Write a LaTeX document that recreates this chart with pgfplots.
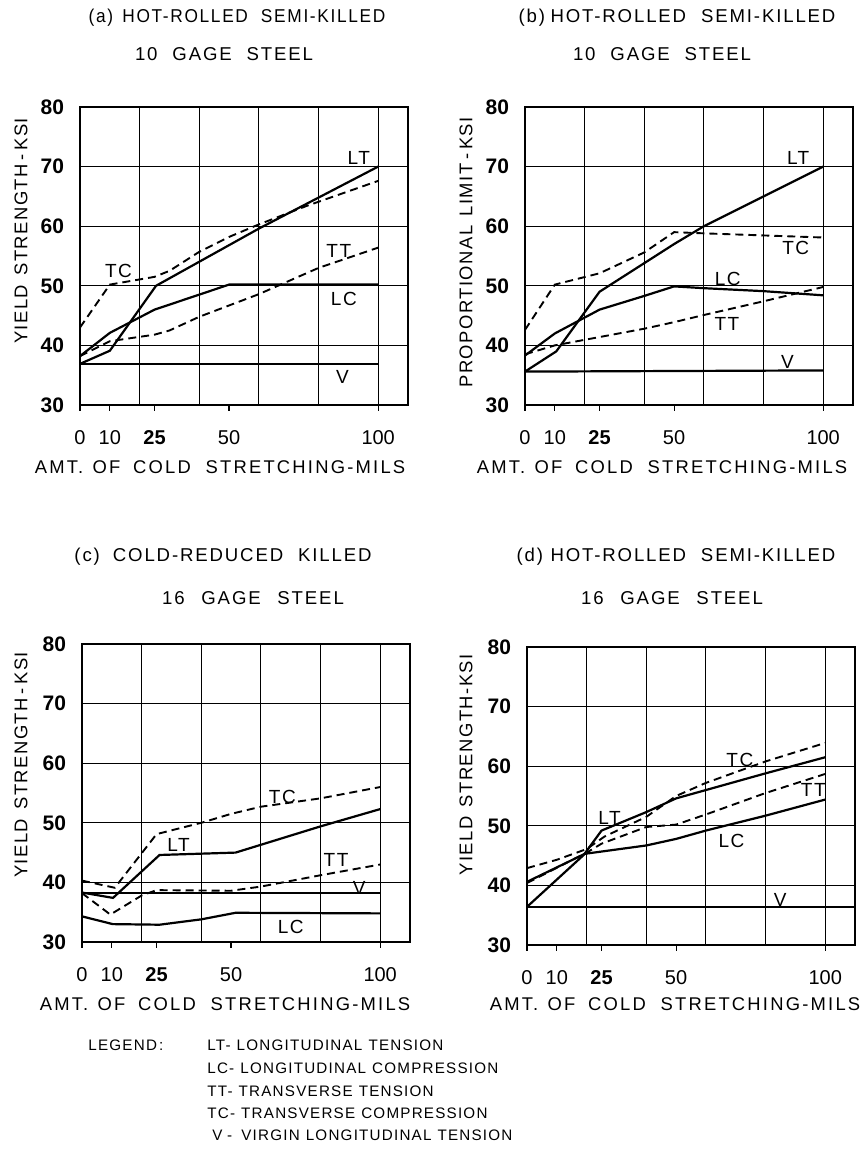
\documentclass[border=0pt]{standalone}
\usepackage{fontspec}
\setmainfont{Liberation Sans}
\newfontfamily\ttlfont[LetterSpace=10]{Liberation Sans}
\newfontfamily\ttlnarrow[LetterSpace=9,FakeStretch=0.93]{Liberation Sans}
\newfontfamily\lblfont[LetterSpace=8]{Liberation Sans}
\newfontfamily\axfont[LetterSpace=12]{Liberation Sans}
\usepackage{pgfplots}
\pgfplotsset{compat=1.18}

\pgfplotsset{
  panel/.style={
    scale only axis, width=164pt, height=149pt, anchor=south west,
    xmin=0, xmax=110, ymin=30, ymax=80,
    xtick={0,20,40,60,80,100}, xticklabels={},
    ytick={30,40,...,80},
    grid=major, major grid style={black, line width=0.45pt},
    major tick length=0pt, xtick pos=bottom, ytick pos=left,
    extra x ticks={0,10,25,50,100},
    extra x tick labels={0,10,\textbf{25},50,100},
    extra x tick style={grid=none, major tick length=3pt, tick align=outside,
      tick style={black, line width=0.6pt}},
    axis line style={line width=1.1pt},
    /pgf/number format/assume math mode=true,
    xticklabel style={font=\fontsize{10}{11}\selectfont, yshift=-6pt},
    yticklabel style={font=\bfseries\fontsize{10.5}{11}\selectfont, xshift=-4.5pt},
  },
  sol/.style={black, line width=1.1pt, no marks},
  das/.style={black, line width=0.95pt, no marks, dash pattern=on 4pt off 2.5pt},
}
\tikzset{clab/.style={font=\lblfont\fontsize{9.5}{10}\selectfont, inner sep=0pt}}

\begin{document}
\begin{tikzpicture}[x=1pt,y=1pt]
\path[use as bounding box] (0,0) rectangle (433.5,580);

% (a)
\begin{axis}[panel, at={(40pt,377.5pt)}]
\addplot[sol] coordinates {(0,36.9) (100,36.9)};
\addplot[sol] coordinates {(0,36.9) (10,39.1) (25.5,50) (60,59.6) (100,70)};
\addplot[sol] coordinates {(0,38.2) (10,42.1) (25,46) (50,50.2) (100,50.2)};
\addplot[das] coordinates {(0,43) (10,50.2) (25,51.5) (30,52.5) (40,55.7) (50,58.2) (60,60.3) (76,63.4) (100,67.6)};
\addplot[das] coordinates {(0,38.2) (10,40.7) (25,41.8) (30,42.5) (40,44.8) (60,48.6) (80,53) (100,56.4)};
\node[clab] at (axis cs:93.5,71.5) {LT};
\node[clab] at (axis cs:12.9,52.5) {TC};
\node[clab] at (axis cs:86.8,55.9) {TT};
\node[clab] at (axis cs:88.5,47.8) {LC};
\node[clab] at (axis cs:88,34.7) {V};
\end{axis}

% (b)
\begin{axis}[panel, at={(262.5pt,377.5pt)}]
\addplot[sol] coordinates {(0,35.6) (100,35.8)};
\addplot[sol] coordinates {(0,35.6) (10.5,39) (25,49) (50,57) (60,60) (100,70)};
\addplot[sol] coordinates {(0,38.3) (10,42) (25,46) (40,48.3) (50,49.9) (60,49.6) (80,49.1) (100,48.4)};
\addplot[das] coordinates {(0,42.6) (10,50.2) (25,52.1) (40,55.6) (50,59) (60,58.8) (100,58.1)};
\addplot[das] coordinates {(0,38.5) (10,40) (25,41.4) (40,42.8) (50,43.9) (60,45.1) (80,47.4) (100,49.8)};
\node[clab] at (axis cs:91.6,71.5) {LT};
\node[clab] at (axis cs:90.8,56.4) {TC};
\node[clab] at (axis cs:68,51.2) {LC};
\node[clab] at (axis cs:67.7,43.6) {TT};
\node[clab] at (axis cs:88,37.2) {V};
\end{axis}

% (c)
\begin{axis}[panel, at={(41pt,109pt)}]
\addplot[sol] coordinates {(0,38.2) (100,38.2)};
\addplot[sol] coordinates {(0,38.3) (10.4,37.4) (26,44.6) (51.5,45) (80,49.4) (100,52.3)};
\addplot[sol] coordinates {(0,34.3) (10.3,33) (26,32.9) (40,33.8) (51.5,34.9) (100,34.8)};
\addplot[das] coordinates {(0,40.3) (11,39.1) (25,48.1) (40,50) (50,51.5) (60,52.7) (80,54.1) (100,56)};
\addplot[das] coordinates {(0,38.2) (9.5,34.6) (20,37.8) (25,38.7) (50,38.6) (60,39.3) (80,41.2) (100,43)};
\node[clab] at (axis cs:67.2,54.4) {TC};
\node[clab] at (axis cs:32.4,46.3) {LT};
\node[clab] at (axis cs:85.2,43.7) {TT};
\node[clab] at (axis cs:93,39) {V};
\node[clab] at (axis cs:70,32.5) {LC};
\end{axis}

% (d)
\begin{axis}[panel, at={(263.5pt,107.5pt)}]
\addplot[sol] coordinates {(0,36.4) (110,36.4)};
\addplot[sol] coordinates {(0,36.4) (19,45.1) (25,49.2) (40,52.3) (50,54.6) (60,56) (80,58.8) (100,61.5)};
\addplot[sol] coordinates {(0,40.6) (19.4,45.3) (40,46.7) (50,47.8) (60,49.2) (80,51.7) (100,54.4)};
\addplot[das] coordinates {(0,42.9) (10,44.3) (20,46.1) (26,48.2) (40,51.5) (50,55) (60,57.2) (80,60.8) (100,63.9)};
\addplot[das] coordinates {(0,40.4) (20,45.5) (25,47) (40,49.8) (50,50.2) (60,51.9) (80,55.5) (100,58.7)};
\node[clab] at (axis cs:71.4,61.1) {TC};
\node[clab] at (axis cs:96,56) {TT};
\node[clab] at (axis cs:27.7,51.3) {LT};
\node[clab] at (axis cs:68.6,47.4) {LC};
\node[clab] at (axis cs:84.9,37.6) {V};
\end{axis}

% titles
\begin{scope}[every node/.style={font=\ttlfont\fontsize{9.3}{10}\selectfont, inner sep=0pt}]
\node[font=\ttlnarrow\fontsize{9.3}{10}\selectfont] at (118.5,571) {(a)\hspace{0.5em}HOT-ROLLED\hspace{0.7em}SEMI-KILLED};
\node at (112,553) {10\hspace{0.8em}GAGE\hspace{0.8em}STEEL};
\node at (338.5,571) {(b)\hspace{0.3em}HOT-ROLLED\hspace{0.8em}SEMI-KILLED};
\node at (331,553) {10\hspace{0.8em}GAGE\hspace{0.8em}STEEL};
\node at (111.5,301.5) {(c)\hspace{0.7em}COLD-REDUCED\hspace{0.8em}KILLED};
\node at (126.5,281) {16\hspace{0.9em}GAGE\hspace{0.9em}STEEL};
\node at (338,301.5) {(d)\hspace{0.4em}HOT-ROLLED\hspace{0.8em}SEMI-KILLED};
\node at (336,281) {16\hspace{0.9em}GAGE\hspace{0.9em}STEEL};
\end{scope}

% axis labels
\begin{scope}[every node/.style={font=\axfont\fontsize{9.2}{10}\selectfont, inner sep=0pt}]
\node at (110,346.5) {AMT.\hspace{0.5em}OF\hspace{0.7em}COLD\hspace{0.8em}STRETCHING-MILS};
\node at (331,346.5) {AMT.\hspace{0.5em}OF\hspace{0.7em}COLD\hspace{0.8em}STRETCHING-MILS};
\node at (112.5,78) {AMT.\hspace{0.5em}OF\hspace{0.7em}COLD\hspace{0.8em}STRETCHING-MILS};
\node at (337.5,78) {AMT.\hspace{0.5em}OF\hspace{0.7em}COLD\hspace{0.8em}STRETCHING-MILS};
\end{scope}
\begin{scope}[every node/.style={font=\lblfont\fontsize{9.2}{10}\selectfont, inner sep=0pt, rotate=90}]
\node at (10.5,464.5) {YIELD\hspace{0.5em}STRENGTH\hspace{0.2em}-\hspace{0.2em}KSI};
\node at (233,453.75) {PROPORTIONAL\hspace{0.5em}LIMIT\hspace{0.2em}-\hspace{0.2em}KSI};
\node at (10.5,197.5) {YIELD\hspace{0.5em}STRENGTH\hspace{0.2em}-\hspace{0.2em}KSI};
\node at (233,197.5) {YIELD\hspace{0.5em}STRENGTH-KSI};
\end{scope}

% legend
\begin{scope}[every node/.style={font=\lblfont\fontsize{7.6}{8}\selectfont, inner sep=0pt, anchor=west}]
\node at (44,57.5) {LEGEND\hspace{0.15em}:};
\node at (103.5,57.5) {LT-\hspace{0.4em}LONGITUDINAL\hspace{0.4em}TENSION};
\node at (103.5,46) {LC-\hspace{0.4em}LONGITUDINAL\hspace{0.4em}COMPRESSION};
\node at (103.5,34.5) {TT-\hspace{0.4em}TRANSVERSE\hspace{0.4em}TENSION};
\node at (103.5,23.5) {TC-\hspace{0.4em}TRANSVERSE\hspace{0.4em}COMPRESSION};
\node at (106,12.5) {V\hspace{0.3em}-\hspace{0.6em}VIRGIN\hspace{0.4em}LONGITUDINAL\hspace{0.4em}TENSION};
\end{scope}
\end{tikzpicture}
\end{document}
